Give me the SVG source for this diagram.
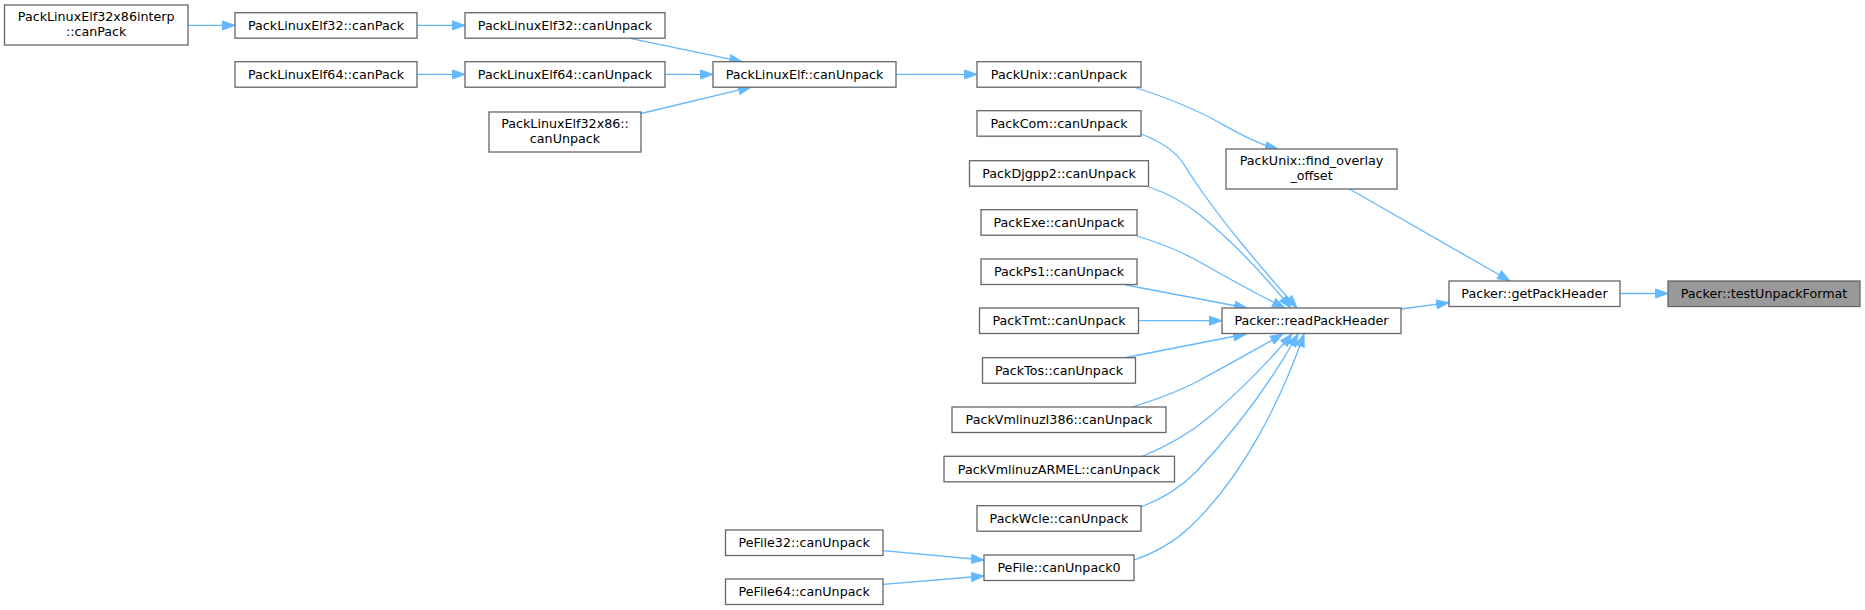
<svg xmlns="http://www.w3.org/2000/svg" width="1865" height="610" viewBox="0 0 1865 610">
<style>
.n rect{fill:#ffffff;stroke:#666666;stroke-width:1.3}
.n.cur rect{fill:#999999}
.n text{font-family:"DejaVu Sans","Noto Sans",sans-serif;font-size:12.7px;fill:#000000;text-anchor:middle}
.e path{fill:none;stroke:#63b8ff;stroke-width:1.3;marker-end:url(#ah)}
</style>
<defs>
<marker id="ah" markerUnits="userSpaceOnUse" markerWidth="14" markerHeight="10" viewBox="0 0 14 10" refX="13" refY="5" orient="auto">
<path d="M0.5,0.5 L13,5 L0.5,9.5 Z" fill="#63b8ff" stroke="#63b8ff" stroke-width="1"/>
</marker>
</defs>
<rect width="1865" height="610" fill="#ffffff"/>
<g id="connectors" class="e">
<path d="M188,25.4 L235,25.4"/>
<path d="M417,25.4 L465,25.4"/>
<path d="M417,74.4 L465,74.4"/>
<path d="M629,38.2 L742,61.7"/>
<path d="M665,74.4 L713,74.4"/>
<path d="M641,113.5 L751,87.2"/>
<path d="M896,74.4 L977,74.4"/>
<path d="M1135,87.5 C1165,97 1195,109 1220,123 C1242,135 1260,145 1278,149"/>
<path d="M1349.5,189 L1510,281"/>
<path d="M1401,309 L1449,302.7"/>
<path d="M1620,293.5 L1668,293.5"/>
<path d="M1141,134 C1162,142 1175,151 1183,163 C1215,215 1265,272 1297,308"/>
<path d="M1149,187 C1170,194 1185,203 1200,215 C1232,241 1265,276 1291,308"/>
<path d="M1137,236 C1160,243 1185,253 1205,265 C1235,282 1260,296 1285,308"/>
<path d="M1126,285 L1247,308"/>
<path d="M1139,320.7 L1222,320.7"/>
<path d="M1126,357.5 L1246,334"/>
<path d="M1132,407 C1155,400 1180,391 1200,380 C1230,364 1258,348 1283,334"/>
<path d="M1142,456.5 C1165,447 1190,433 1208,418 C1240,391 1270,360 1292,334"/>
<path d="M1141,507 C1162,499 1182,486 1196,472 C1240,425 1275,375 1298,334"/>
<path d="M1134,560 C1155,553 1175,541 1190,527 C1245,475 1283,395 1304,334"/>
<path d="M883,550.7 L984,560"/>
<path d="M883,584.3 L984,576"/>
</g>
<g id="n_interp" class="n"><rect x="4.5" y="5" width="183.5" height="40"/><text x="96.2" y="21">PackLinuxElf32x86interp</text><text x="96.2" y="36">::canPack</text></g>
<g id="n_elf32_canpack" class="n"><rect x="235" y="12.7" width="182" height="25.5"/><text x="326" y="29.9">PackLinuxElf32::canPack</text></g>
<g id="n_elf32_canunpack" class="n"><rect x="465" y="12.7" width="200" height="25.5"/><text x="565" y="29.9">PackLinuxElf32::canUnpack</text></g>
<g id="n_elf64_canpack" class="n"><rect x="235" y="61.7" width="182" height="25.5"/><text x="326" y="78.9">PackLinuxElf64::canPack</text></g>
<g id="n_elf64_canunpack" class="n"><rect x="465" y="61.7" width="200" height="25.5"/><text x="565" y="78.9">PackLinuxElf64::canUnpack</text></g>
<g id="n_elf32x86_canunpack" class="n"><rect x="489" y="112" width="152" height="40"/><text x="565" y="128">PackLinuxElf32x86::</text><text x="565" y="143">canUnpack</text></g>
<g id="n_elf_canunpack" class="n"><rect x="713" y="61.7" width="183" height="25.5"/><text x="804.5" y="78.9">PackLinuxElf::canUnpack</text></g>
<g id="n_unix_canunpack" class="n"><rect x="977" y="61.7" width="164" height="25.5"/><text x="1059" y="78.9">PackUnix::canUnpack</text></g>
<g id="n_com" class="n"><rect x="977" y="110.7" width="164" height="25.5"/><text x="1059" y="127.9">PackCom::canUnpack</text></g>
<g id="n_djgpp2" class="n"><rect x="969.5" y="160.7" width="179" height="25.5"/><text x="1059" y="177.9">PackDjgpp2::canUnpack</text></g>
<g id="n_exe" class="n"><rect x="981" y="209.7" width="156" height="25.5"/><text x="1059" y="226.9">PackExe::canUnpack</text></g>
<g id="n_ps1" class="n"><rect x="981" y="259" width="156" height="25.5"/><text x="1059" y="276.2">PackPs1::canUnpack</text></g>
<g id="n_tmt" class="n"><rect x="979.5" y="308" width="159" height="25.5"/><text x="1059" y="325.2">PackTmt::canUnpack</text></g>
<g id="n_tos" class="n"><rect x="982.5" y="357.7" width="153" height="25.5"/><text x="1059" y="374.9">PackTos::canUnpack</text></g>
<g id="n_i386" class="n"><rect x="952" y="407" width="214" height="25.5"/><text x="1059" y="424.2">PackVmlinuzI386::canUnpack</text></g>
<g id="n_armel" class="n"><rect x="944" y="456.3" width="230.5" height="25.5"/><text x="1059" y="473.5">PackVmlinuzARMEL::canUnpack</text></g>
<g id="n_wcle" class="n"><rect x="977" y="505.7" width="164" height="25.5"/><text x="1059" y="522.9">PackWcle::canUnpack</text></g>
<g id="n_pefile0" class="n"><rect x="984" y="555" width="150" height="25.5"/><text x="1059" y="572.2">PeFile::canUnpack0</text></g>
<g id="n_pefile32" class="n"><rect x="725.5" y="530" width="157.5" height="25.5"/><text x="804.2" y="547.2">PeFile32::canUnpack</text></g>
<g id="n_pefile64" class="n"><rect x="725.5" y="579" width="157.5" height="25.5"/><text x="804.2" y="596.2">PeFile64::canUnpack</text></g>
<g id="n_find_overlay" class="n"><rect x="1226" y="149" width="171" height="40"/><text x="1311.5" y="165">PackUnix::find_overlay</text><text x="1311.5" y="180">_offset</text></g>
<g id="n_readpackheader" class="n"><rect x="1222" y="308" width="179" height="25.5"/><text x="1311.5" y="325.2">Packer::readPackHeader</text></g>
<g id="n_getpackheader" class="n"><rect x="1449" y="281" width="171" height="25.5"/><text x="1534.5" y="298.2">Packer::getPackHeader</text></g>
<g id="n_testunpackformat" class="n cur"><rect x="1668" y="281" width="192" height="25.5"/><text x="1764" y="298.2">Packer::testUnpackFormat</text></g>
</svg>
